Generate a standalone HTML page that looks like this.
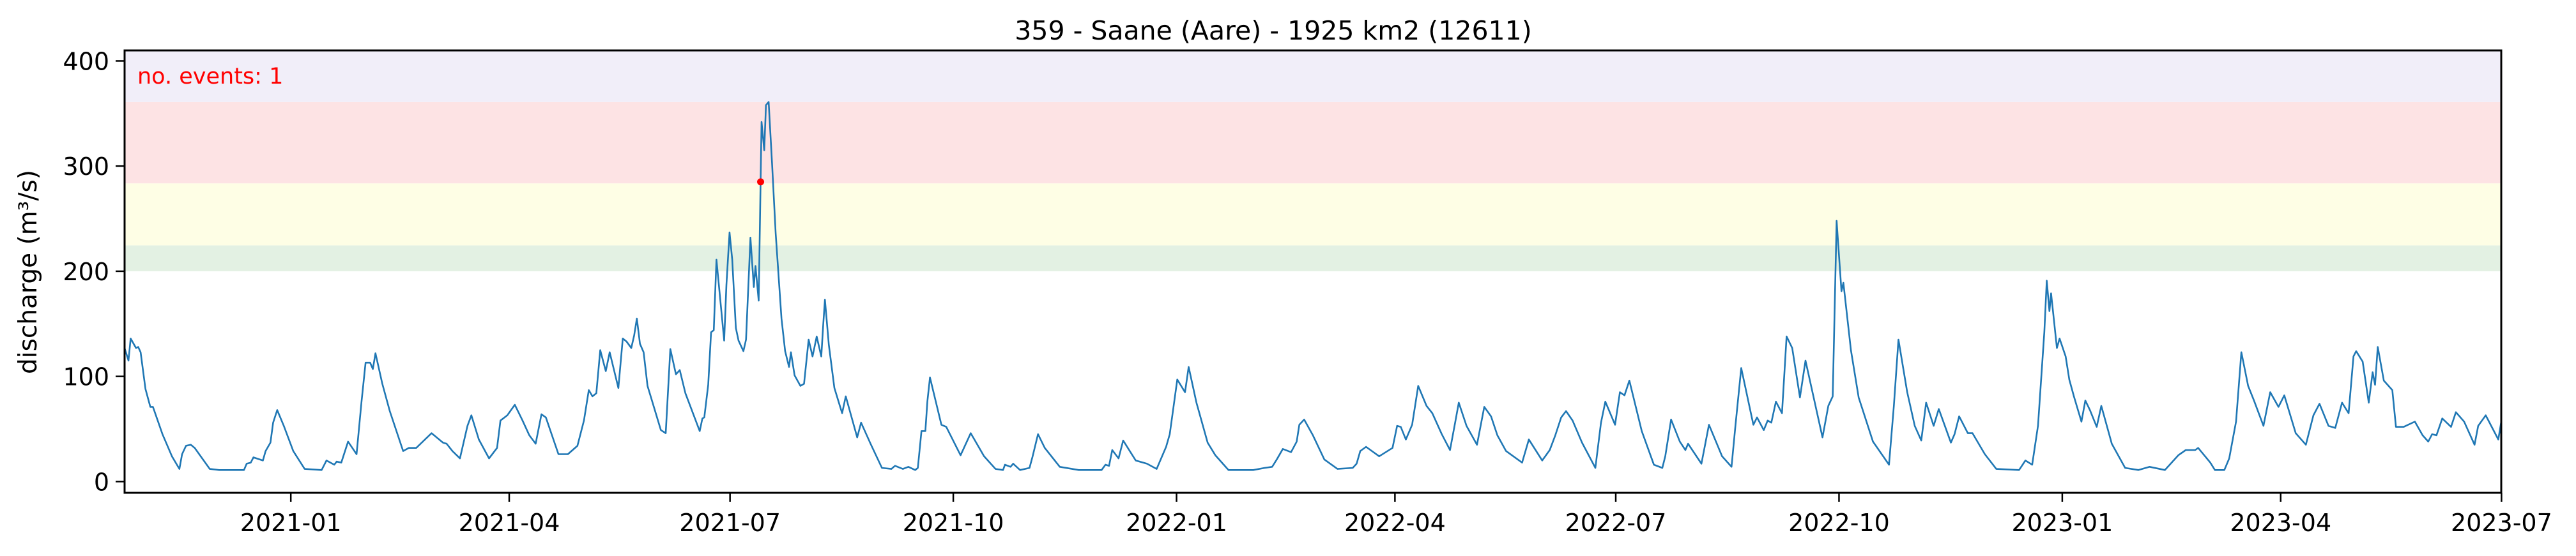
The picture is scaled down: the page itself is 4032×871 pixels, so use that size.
<!DOCTYPE html>
<html>
<head>
<meta charset="utf-8">
<style>
html,body{margin:0;padding:0;background:#fff;}
svg{display:block;}
text{font-family:"DejaVu Sans","Liberation Sans",sans-serif;}
</style>
</head>
<body>
<svg id="chart" width="4032" height="871" viewBox="0 0 4032 871" xmlns="http://www.w3.org/2000/svg">
  <text x="1993" y="62" font-size="41" text-anchor="middle" fill="#000">359 - Saane (Aare) - 1925 km2 (12611)</text>
  <g id="bands"></g>
  <g id="series"></g>
  <g id="xaxis"></g>
  <g id="yaxis"></g>
  <rect x="195" y="79" width="3720" height="693" fill="none" stroke="#000" stroke-width="3"/>
  <text x="215" y="131" font-size="35" fill="#ff0000">no. events: 1</text>
  <text transform="translate(57,426) rotate(-90)" font-size="39" text-anchor="middle" fill="#000">discharge (m³/s)</text>
</svg>
<script>
// days since left edge of plot (2020-10-24) and discharge values (m3/s)
const days = [0,1.6,2.5,4.7,5.6,6.6,8.6,10.6,11.7,15.6,19.5,22.6,23.7,25.3,27.3,28.9,35.1,39,46.8,49.2,50.3,52,53.1,57,58.1,60.1,61.2,62.9,65.6,69.5,74.2,81.2,83.2,86.4,87.4,89.3,92.1,95.6,97.6,99.3,101.2,102.3,103.4,106.2,109.3,114.8,117.1,120.2,126.5,131.2,132.7,135.1,138.2,141.3,142.9,146,150.2,153.5,154.9,157.7,160.8,164,166.8,169.4,171.8,173.6,178.8,182.7,186.6,189.3,191.3,192.8,194.4,196,198.3,199.9,203.5,205.3,206.9,208.8,210,211.1,212.4,213.9,215.5,221,223,224.9,227.2,228.8,231.1,237,238.1,238.9,240.5,241.7,242.8,243.9,
247.1,248,249.3,250.4,251.9,253,255,256.1,257.9,259.3,260,261.3,262.1,262.5,263.6,264.3,265.4,266.8,268.3,270.7,272.2,273.8,274.6,276.1,278.5,280,281.9,283.5,285.2,287.1,287.9,288.6,290.2,292.5,295.7,297.2,301.9,303.5,307.4,312.1,316,317.5,320.7,323,325.8,326.9,328.4,330,330.8,331.9,336.6,338.6,344.5,348.7,354.2,358.9,362,362.8,365.1,366.2,369,372.9,374.2,376.4,379.2,385.4,393.2,402.6,404.2,405.7,407,409.6,411.5,416.7,421.3,425.3,429.2,430.7,433.8,437,438.5,441.7,446.3,449.5,454.9,465.1,469.8,472.9,474.8,477.3,480.7,483,484.1,486.1,489.7,
494.4,499.8,506.1,507.7,509.2,511.6,517,522.5,524.4,525.9,528,530.6,533.1,536.5,538.9,542.8,546.2,548.3,549.8,553,557.3,560.3,563.1,565.7,569.3,575.9,578.7,584.2,587.3,589.6,592,594,596.7,600.6,606.1,608.4,610.2,614.2,616.2,618.1,620.1,625.2,630.2,633.7,634.9,637.3,640.9,643.2,644.3,649.8,652.9,658.3,662.2,663.8,666.2,671.2,672.7,675.5,677.1,678.6,680.5,683,684.9,687.2,690.4,692.7,699.7,702.1,703.9,705.5,707.5,708.3,711.4,714.6,720.5,727.1,729.1,731,734.6,
737.7,740.4,742.4,745.5,747.6,752.6,754.1,756,759.6,761.5,766.6,771.3,780.7,783.3,786.1,788.5,791.1,792.1,793.2,793.9,796.3,797.4,799.9,801.4,803.3,806.4,808,809.9,812.7,814.6,818.9,824.4,829.9,834.5,840.8,846.3,849.4,853.3,854.5,859.5,861.4,865.3,867.3,870.1,872.3,875.1,877.5,881.4,884.2,887.6,890,894.7,898.9,902,904.5,908.2,911,913.8,916.5,918.5,919.6,922.3,924.8,926.4,927.4,928.5,931,934.5,936,939.2,943.8,947,949.3,950.9,952.7,955.1,958.7,960.7,964.1,968.4,969.9,973,978.2,979.4];
const discharge = [127,115,136,127,128,123,88,71,71,45,24,12,26,34,35,32,12,11,11,11,17,18,23,20,29,37,56,68,53,29,12,11,20,16,19,18,38,26,75,113,113,107,122,93,67,29,32,32,46,37,36,29,22,53,63,40,22,32,58,63,73,58,44,36,64,61,26,26,34,58,87,81,84,125,105,123,89,136,133,127,139,155,131,123,91,49,46,126,102,106,84,48,60,61,92,142,144,211,
134,187,237,211,146,134,124,135,232,185,205,172,285,342,315,358,361,303,236,155,124,109,123,101,91,93,135,119,138,119,149,173,130,89,65,81,42,56,36,13,12,15,12,14,11,13,48,48,76,99,54,52,25,46,24,12,11,16,14,17,11,13,24,45,32,14,11,11,16,15,30,22,39,20,17,12,33,45,97,85,109,75,37,25,11,11,13,14,21,31,28,38,54,59,44,
21,12,13,17,29,33,24,32,53,52,40,54,91,72,65,45,30,56,75,53,35,71,62,44,29,18,40,20,30,44,61,67,58,37,13,56,76,54,85,82,96,48,16,13,24,59,38,30,36,17,54,24,14,53,108,54,61,49,58,56,76,65,138,127,80,115,42,72,81,248,181,189,125,80,38,16,72,135,85,
53,39,75,53,69,37,45,62,46,46,26,12,11,20,16,53,142,191,162,179,127,136,119,97,81,57,77,68,52,72,36,13,11,14,11,25,30,30,32,18,11,11,22,57,123,91,77,53,85,71,82,46,35,63,74,53,51,75,65,119,124,114,75,104,92,128,96,87,52,52,57,44,38,45,44,60,52,66,57,35,53,63,40,57];
const eventDays = [262.1];
const eventValues = [285];
const yTicks = [0,100,200,300,400];
const xTickDays = [68.5,158.5,249.5,341.5,433.5,523.5,614.5,706.5,798.5,888.5,979.5];
const xTickLabels = ["2021-01","2021-04","2021-07","2021-10","2022-01","2022-04","2022-07","2022-10","2023-01","2023-04","2023-07"];
const bandLows = [200,224.6,283.6,360.9];
const bandHighs = [224.6,283.6,360.9,420];
const bandColors = ["#e3f1e3","#fefee5","#fde3e4","#f1eef9"];

const L=195,R=3915,T=79,B=772;
const X0=0,X1=979.4,Y0=-10.7,Y1=410;
const NS="http://www.w3.org/2000/svg";
function xs(d){return L+(d-X0)/(X1-X0)*(R-L);}
function ys(v){return B-(v-Y0)/(Y1-Y0)*(B-T);}
function mk(tag,attrs,parent){const e=document.createElementNS(NS,tag);for(const k in attrs)e.setAttribute(k,attrs[k]);parent.appendChild(e);return e;}

const gb=document.getElementById('bands');
for(let i=0;i<bandLows.length;i++){
  const top=Math.max(T,ys(bandHighs[i])), bot=ys(bandLows[i]);
  const r=mk('rect',{x:L,y:top,width:R-L,height:bot-top,fill:bandColors[i]},gb);
  
  
}
const gs=document.getElementById('series');
let d='';
for(let i=0;i<days.length;i++){d+=(i?'L':'M')+xs(days[i]).toFixed(1)+' '+ys(discharge[i]).toFixed(1);}
const p=mk('path',{d:d,fill:'none',stroke:'#1f77b4','stroke-width':2.6,'stroke-linejoin':'round'},gs);


for(let i=0;i<eventDays.length;i++){
  const c=mk('circle',{cx:xs(eventDays[i]),cy:ys(eventValues[i]),r:5.5,fill:'#ff0000'},gs);
  
  
}
const gx=document.getElementById('xaxis');
for(let i=0;i<xTickDays.length;i++){
  const x=xs(xTickDays[i]);
  const t=mk('line',{x1:x,x2:x,y1:B,y2:B+14,stroke:'#000','stroke-width':2.5},gx);
  
  
  const tx=mk('text',{x:x,y:832,'font-size':38,'text-anchor':'middle',fill:'#000'},gx);
  tx.textContent=xTickLabels[i];
  
  
}
const gy=document.getElementById('yaxis');
for(let i=0;i<yTicks.length;i++){
  const y=ys(yTicks[i]);
  const t=mk('line',{x1:L-14,x2:L,y1:y,y2:y,stroke:'#000','stroke-width':2.5},gy);
  
  
  const tx=mk('text',{x:L-24,y:y+14,'font-size':38,'text-anchor':'end',fill:'#000'},gy);
  tx.textContent=yTicks[i];
  
  
}
</script>
</body>
</html>
